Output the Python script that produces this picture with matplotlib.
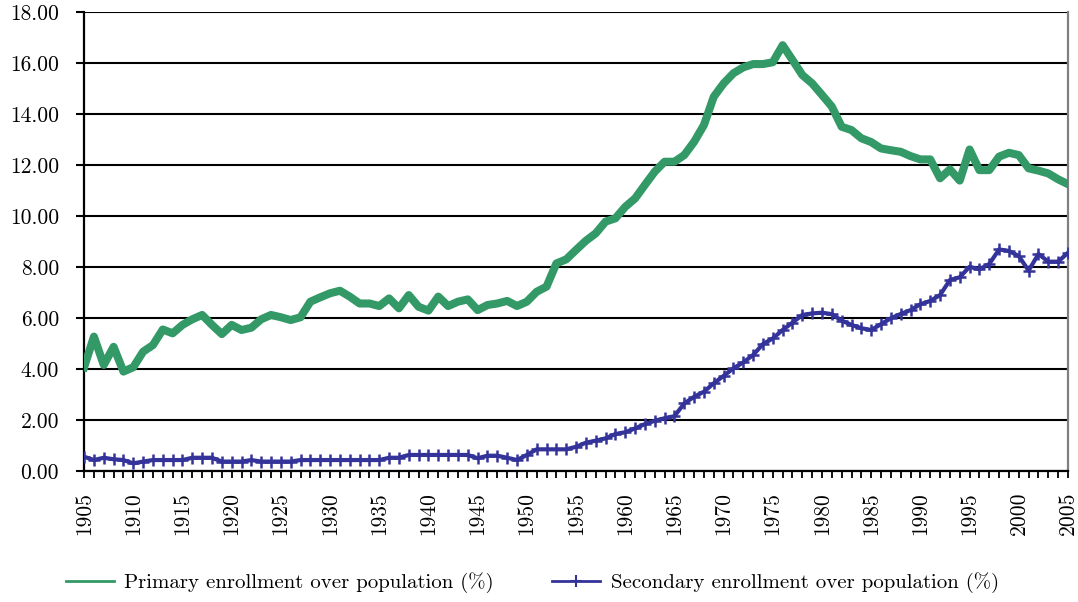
import numpy as np
import matplotlib
matplotlib.use("Agg")
import matplotlib.pyplot as plt
from matplotlib.lines import Line2D
from matplotlib.ticker import MultipleLocator, StrMethodFormatter

plt.rcParams['font.family'] = ['cmr10', 'DejaVu Serif']

years = np.arange(1905, 2006)

primary = [4.07, 5.27, 4.16, 4.87, 3.90, 4.07, 4.68, 4.94, 5.55, 5.40,
           5.73, 5.95, 6.12, 5.73, 5.37, 5.73, 5.53, 5.62, 5.95, 6.12,
           6.03, 5.92, 6.03, 6.64, 6.81, 6.97, 7.07, 6.84, 6.57, 6.57,
           6.47, 6.77, 6.38, 6.90, 6.44, 6.29, 6.84, 6.47, 6.64, 6.73,
           6.31, 6.51, 6.57, 6.67, 6.47, 6.64, 7.03, 7.23, 8.14, 8.30,
           8.67, 9.03, 9.32, 9.78, 9.91, 10.36, 10.69, 11.22, 11.74, 12.13,
           12.13, 12.39, 12.91, 13.57, 14.68, 15.20, 15.60, 15.83, 15.96, 15.96,
           16.03, 16.70, 16.12, 15.53, 15.20, 14.75, 14.29, 13.50, 13.37, 13.05,
           12.90, 12.65, 12.58, 12.52, 12.35, 12.22, 12.22, 11.48, 11.83, 11.39,
           12.61, 11.80, 11.80, 12.33, 12.48, 12.39, 11.87, 11.78, 11.67, 11.44,
           11.25]

secondary = [0.56, 0.43, 0.52, 0.46, 0.43, 0.30, 0.37, 0.43, 0.43, 0.43,
             0.43, 0.52, 0.52, 0.52, 0.37, 0.37, 0.37, 0.43, 0.37, 0.37,
             0.37, 0.37, 0.43, 0.43, 0.43, 0.43, 0.43, 0.43, 0.43, 0.43,
             0.43, 0.52, 0.52, 0.63, 0.63, 0.63, 0.63, 0.63, 0.63, 0.63,
             0.50, 0.60, 0.60, 0.52, 0.43, 0.63, 0.85, 0.85, 0.85, 0.85,
             0.95, 1.11, 1.19, 1.28, 1.45, 1.52, 1.67, 1.84, 1.97, 2.07,
             2.15, 2.65, 2.91, 3.11, 3.44, 3.73, 4.03, 4.26, 4.55, 4.98,
             5.20, 5.53, 5.82, 6.12, 6.18, 6.21, 6.15, 5.90, 5.73, 5.60,
             5.53, 5.76, 5.99, 6.16, 6.31, 6.54, 6.67, 6.90, 7.49, 7.60,
             8.01, 7.91, 8.12, 8.69, 8.63, 8.43, 7.86, 8.51, 8.21, 8.21,
             8.56]

green = '#339966'
blue = '#333399'

fig = plt.figure(figsize=(10.78, 6.02), dpi=100)
ax = fig.add_axes([0.078, 0.2176, 0.9127, 0.7624])

ax.plot(years, primary, color=green, lw=5.8, solid_joinstyle='round', zorder=3)
ax.plot(years, secondary, color=blue, lw=3, marker='+', ms=9, mew=1.8, zorder=4)

ax.set_xlim(1905, 2005)
ax.set_ylim(0, 18)
ax.yaxis.set_major_locator(MultipleLocator(2))
ax.yaxis.set_major_formatter(StrMethodFormatter('{x:.2f}'))
ax.xaxis.set_major_locator(MultipleLocator(5))
ax.xaxis.set_minor_locator(MultipleLocator(1))
ax.xaxis.set_major_formatter(StrMethodFormatter('{x:.0f}'))
ax.grid(axis='y', color='black', lw=1.5, zorder=1)

ax.tick_params(axis='x', which='both', direction='out', length=5, width=1.3,
               labelsize=15.5, labelrotation=90, pad=10)
ax.tick_params(axis='y', direction='out', length=6, width=1.5, labelsize=15.5,
               pad=12)

for s in ['left', 'bottom']:
    ax.spines[s].set_linewidth(1.6)
    ax.spines[s].set_color('black')
ax.spines['top'].set_visible(False)
ax.spines['right'].set_color('#808080')
ax.spines['right'].set_linewidth(1.6)

handles = [Line2D([], [], color=green, lw=2),
           Line2D([], [], color=blue, lw=2, marker='+', ms=8, mew=1.5)]
labels = ['Primary enrollment over population (%)',
          'Secondary enrollment over population (%)']
fig.legend(handles, labels, loc='center', bbox_to_anchor=(0.494, 0.032), ncol=2,
           frameon=False, fontsize=15, handlelength=2.3, columnspacing=2.8,
           handletextpad=0.5, numpoints=1)

fig.savefig('out.png', dpi=100)
